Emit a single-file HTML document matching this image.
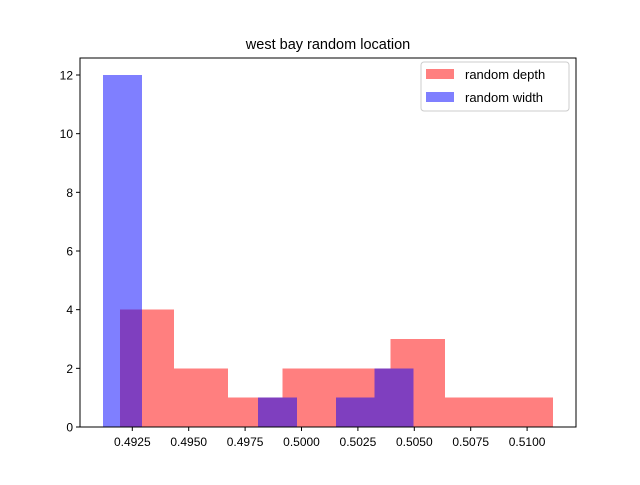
<!DOCTYPE html>
<html><head><meta charset="utf-8"><style>
body{margin:0;background:#fff;}
svg text{font-family:"Liberation Sans","DejaVu Sans",sans-serif;}
</style></head><body>
<svg id="chart" width="640" height="480" viewBox="0 0 640 480" xmlns="http://www.w3.org/2000/svg">
<rect width="640" height="480" fill="#fff"/>
<text x="328" y="49" font-size="14.5" text-anchor="middle">west bay random location</text>
<g id="bars" shape-rendering="crispEdges"></g>
<g id="axes"></g>
<g>
<rect x="421" y="62" width="148" height="49" rx="3" fill="#fff" fill-opacity="0.8" stroke="#ccc"/>
<rect x="426" y="69" width="28" height="10" fill="rgba(255,0,0,0.5)"/>
<text x="465" y="79" font-size="13">random depth</text>
<rect x="426" y="92" width="28" height="10" fill="rgba(0,0,255,0.5)"/>
<text x="465" y="102" font-size="13">random width</text>
</g>
</svg>
<script>
const depthEdges=[0.49195,0.49435,0.49675,0.49915,0.50155,0.50395,0.50635,0.50875,0.51115];
const depthCounts=[4,2,1,2,2,3,1,1];
const widthEdges=[0.4912,0.49292,0.49464,0.49636,0.49808,0.4998,0.50152,0.50324,0.50496];
const widthCounts=[12,0,0,0,1,0,1,2];
const xTicks=[0.4925,0.4950,0.4975,0.5000,0.5025,0.5050,0.5075,0.5100];
const xTickLabels=["0.4925","0.4950","0.4975","0.5000","0.5025","0.5050","0.5075","0.5100"];
const yTicks=[0,2,4,6,8,10,12];

const L=80,R=576,T=58,B=427;
const X=v=>132.3+(v-0.4925)*22560;
const Y=v=>B-v*(B-75)/12;
const NS="http://www.w3.org/2000/svg";
const bars=document.getElementById('bars'),axes=document.getElementById('axes');
function mk(tag,attrs,parent){const e=document.createElementNS(NS,tag);for(const k in attrs)e.setAttribute(k,attrs[k]);parent.appendChild(e);return e;}
function drawHist(edges,counts,color,name){
  counts.forEach((c,i)=>{
    if(c<=0)return;
    const r=mk('rect',{x:X(edges[i]),y:Y(c),width:X(edges[i+1])-X(edges[i]),height:Y(0)-Y(c),fill:color},bars);
    
    
  });
}
drawHist(depthEdges,depthCounts,'rgba(255,0,0,0.5)','depth');
drawHist(widthEdges,widthCounts,'rgba(0,0,255,0.5)','width');
const frame=mk('rect',{x:L,y:T,width:R-L,height:B-T,fill:'none',stroke:'#000','stroke-width':1},axes);


xTicks.forEach((v,i)=>{
  const x=X(v);
  const t=mk('line',{x1:x,x2:x,y1:B,y2:B+4,stroke:'#000'},axes);
  
  
  const tx=mk('text',{x:x,y:B+19,'font-size':12,'text-anchor':'middle'},axes);
  tx.textContent=xTickLabels[i];
  
  
});
yTicks.forEach(v=>{
  const y=Y(v);
  const t=mk('line',{x1:L-4,x2:L,y1:y,y2:y,stroke:'#000'},axes);
  
  
  const tx=mk('text',{x:L-7,y:y+4.5,'font-size':12,'text-anchor':'end'},axes);
  tx.textContent=String(v);
  
  
});
</script>
</body></html>
